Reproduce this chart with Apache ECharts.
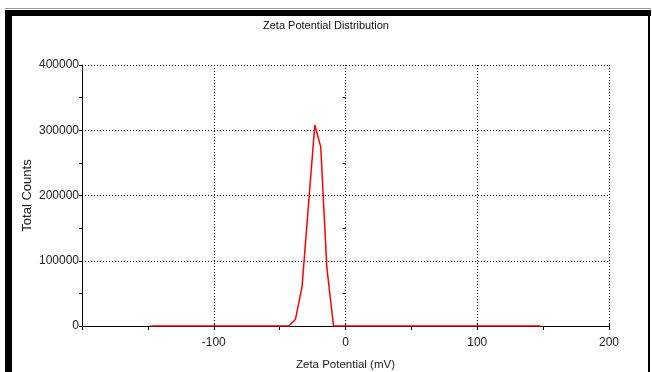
<!DOCTYPE html>
<html>
<head>
<meta charset="utf-8">
<script src="https://cdn.jsdelivr.net/npm/echarts@6/dist/echarts.min.js"></script>
<style>
  html, body { margin:0; padding:0; background:#fff; }
  #chart { width:652px; height:372px; }
</style>
</head>
<body>
<div id="chart"></div>
<script>
// zeta potential (mV) and total counts
const zetaMv = [-148, -43.1, -38, -33, -23.3, -18.8, -14.2, -9.1, 148];
const counts = [0, 0, 10000, 60000, 308000, 274600, 90500, 0, 0];

const xTicks = { min: -200, max: 200, interval: 100 };
const yTicks = { min: 0, max: 400000, interval: 100000 };

const chart = echarts.init(document.getElementById('chart'));
const font = 'Liberation Sans, Arial, sans-serif';
const dotted = { color:'#000', width:1, type:[1,2] };

const opt = {
  backgroundColor: '#fff',
  animation: false,
  title: {
    text: 'Zeta Potential Distribution', left: 'center', top: 15,
    textStyle: { fontFamily: font, fontSize: 11, fontWeight: 'normal', color: '#111' }
  },
  grid: { left: 82, right: 43, top: 65, bottom: 46, outerBoundsMode: 'none', containLabel: false },
  xAxis: [
    {
      type: 'value', min: xTicks.min, max: xTicks.max, interval: xTicks.interval,
      name: 'Zeta Potential (mV)', nameLocation: 'middle', nameGap: 33, nameMoveOverlap: false,
      nameTextStyle: { fontFamily: font, fontSize: 11.5, color: '#222' },
      axisLine: { show: true, onZero: false, lineStyle: { color:'#000', width:1 } },
      axisTick: { show: true, length: 4, lineStyle: { color:'#000' } },
      minorTick: { show: true, splitNumber: 2, length: 4, lineStyle: { color:'#000' } },
      axisLabel: {
        fontFamily: font, fontSize: 12, color: '#222', margin: 11,
        formatter: v => (v === xTicks.min ? '' : String(v))
      },
      splitLine: { show: true, lineStyle: dotted }
    },
    {
      type: 'value', min: xTicks.min, max: xTicks.max, interval: xTicks.interval, position: 'bottom',
      axisLine: { show: false },
      axisTick: { show: true, inside: true, length: 3, lineStyle: { color:'#000' } },
      minorTick: { show: false },
      axisLabel: { show: false }, splitLine: { show: false }
    }
  ],
  yAxis: [
    {
      type: 'value', min: yTicks.min, max: yTicks.max, interval: yTicks.interval,
      name: 'Total Counts', nameLocation: 'middle', nameGap: 48, nameMoveOverlap: false,
      nameTextStyle: { fontFamily: font, fontSize: 13, color: '#222' },
      axisLine: { show: true, onZero: false, lineStyle: { color:'#000', width:1 } },
      axisTick: { show: true, length: 3, lineStyle: { color:'#000' } },
      minorTick: { show: true, splitNumber: 2, length: 3, lineStyle: { color:'#000' } },
      axisLabel: {
        fontFamily: font, fontSize: 12, color: '#222', margin: 3,
        formatter: v => String(v)
      },
      splitLine: { show: true, lineStyle: dotted }
    },
    {
      type: 'value', min: yTicks.min, max: yTicks.max, interval: yTicks.interval, position: 'left',
      axisLine: { show: false },
      axisTick: { show: false },
      minorTick: { show: true, splitNumber: 2, length: 3, lineStyle: { color:'#000' } },
      axisLabel: { show: false }, splitLine: { show: false }
    }
  ],
  series: [{
    type: 'line', xAxisIndex: 0, yAxisIndex: 0,
    data: zetaMv.map((v, i) => [v, counts[i]]),
    showSymbol: false, symbol: 'none',
    lineStyle: { color: '#ff0000', width: 1.5 }, z: 5
  }],
  graphic: [
    { type: 'rect', shape: { x: 5, y: 8, width: 646, height: 1 }, style: { fill: '#999' }, silent: true },
    { type: 'rect', shape: { x: 5, y: 10, width: 646, height: 6 }, style: { fill: '#000' }, silent: true },
    { type: 'rect', shape: { x: 5, y: 10, width: 7, height: 362 }, style: { fill: '#000' }, silent: true },
    { type: 'rect', shape: { x: 648, y: 10, width: 2, height: 362 }, style: { fill: '#000' }, silent: true }
  ]
};
chart.setOption(opt);
</script>
</body>
</html>
